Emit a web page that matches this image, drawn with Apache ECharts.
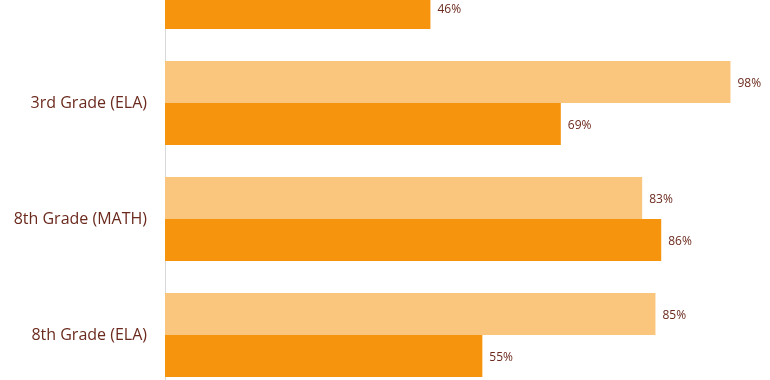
<!DOCTYPE html>
<html><head><meta charset="utf-8">
<script src="https://cdn.jsdelivr.net/npm/echarts@6/dist/echarts.min.js"></script>
<style>html,body{margin:0;padding:0;background:#fff;overflow:hidden;width:770px;height:380px}#c{width:770px;height:464px;position:absolute;left:0;top:-71px}</style>
</head><body><div id="c"></div>
<script>
const categories = ["3rd Grade (MATH)", "3rd Grade (ELA)", "8th Grade (MATH)", "8th Grade (ELA)"];
const seriesLight = [90, 98, 82.7, 85];
const seriesDark = [46, 68.6, 86, 55];
const chart = echarts.init(document.getElementById('c'));
const lab = {show:true, position:'right', distance:7, offset:[0,2], color:'#6B2A1E', fontSize:12, fontFamily:'Open Sans', formatter: p => Math.round(p.value) + '%'};
chart.setOption({
  animation:false,
  grid:{left:165, right:28, top:0, bottom:0, containLabel:false},
  xAxis:{type:'value', min:0, max:100, show:false},
  yAxis:{type:'category', data:categories, inverse:true,
    axisLine:{show:true, lineStyle:{color:'#D9D9D9', width:1}},
    axisTick:{show:false},
    axisLabel:{color:'#6B2A1E', fontSize:16, fontFamily:'Open Sans', margin:18}},
  series:[
    {name:'light', type:'bar', data:seriesLight, barGap:'0%', barCategoryGap:'27.6%', itemStyle:{color:'#FAC67E'}, label:lab},
    {name:'dark', type:'bar', data:seriesDark, barGap:'0%', barCategoryGap:'27.6%', itemStyle:{color:'#F7940E'}, label:lab}
  ]
});
</script></body></html>
